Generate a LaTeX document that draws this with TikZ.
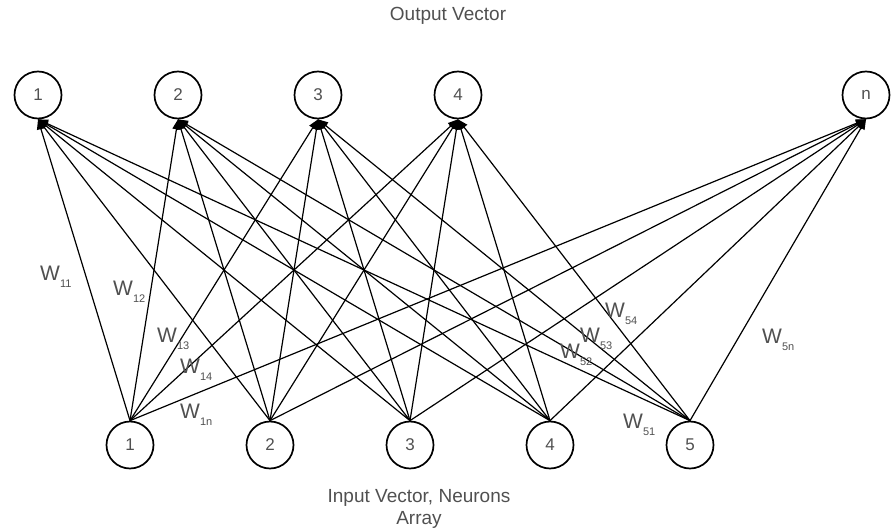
\documentclass[tikz,border=0pt]{standalone}
\usepackage{fontspec}
\setmainfont{Liberation Sans}
\usetikzlibrary{
  arrows.meta, % for the Triangle arrow tip
  positioning, % for relative positioning of the neurons
}
\definecolor{textgray}{RGB}{80,80,80}
\newcommand{\wsub}[1]{W\raisebox{-7pt}{\fontsize{11}{12}\selectfont #1}}
\tikzset{
  neuron/.style={ % style for each neuron
    circle,draw,line width=1.7pt, % drawn as a thick circle
    inner sep=0pt, % no padding between the text and the circle shape
    minimum size=47pt, % make each neuron the same size
    text=textgray,font=\fontsize{17}{20}\selectfont,
  },
  weight/.style={ % style for the weight labels
    anchor=base west,inner sep=0pt,
    text=textgray,font=\fontsize{21}{24}\selectfont,
  },
  caption/.style={ % style for the layer captions
    align=center,inner sep=0pt,
    text=textgray,font=\fontsize{19}{22}\selectfont,
  },
  conn/.style={ % style for the connections
    -{Triangle[length=10pt,width=8pt]}, % small filled arrow tip
    line width=1.2pt,
  },
}
\begin{document}
\begin{tikzpicture}[x=1pt, y=-1pt, node distance=140pt]
	\useasboundingbox (0,0) rectangle (891,532);
	
	% output vector
	\node[neuron] (o1) at (38,95) {1};
	\node[neuron] (o2) [right of=o1] {2};
	\node[neuron] (o3) [right of=o2] {3};
	\node[neuron] (o4) [right of=o3] {4};
	\node[neuron] (on) at (866,95) {n};
	
	% input vector
	\node[neuron] (i1) at (130,445) {1};
	\node[neuron] (i2) [right of=i1] {2};
	\node[neuron] (i3) [right of=i2] {3};
	\node[neuron] (i4) [right of=i3] {4};
	\node[neuron] (i5) [right of=i4] {5};
	
	\foreach \i in {1,...,5}
		\foreach \o in {1,2,3,4,n}
			\draw[conn] (i\i.north) -- (o\o.south);
	
	\node[caption,anchor=base] (outcap) at (448,21) {Output Vector};
	\node[caption,anchor=north] (incap) at (419,489) {Input Vector, Neurons\\Array};
	
	\node[weight] (w11) at (40,280) {\wsub{11}};
	\node[weight] (w12) at (113,295) {\wsub{12}};
	\node[weight] (w13) at (157,342) {\wsub{13}};
	\node[weight] (w14) at (180,373) {\wsub{14}};
	\node[weight] (w1n) at (180,418) {\wsub{1n}};
	\node[weight] (w54) at (605,317) {\wsub{54}};
	\node[weight] (w53) at (580,342) {\wsub{53}};
	\node[weight] (w52) at (560,358) {\wsub{52}};
	\node[weight] (w5n) at (762,343) {\wsub{5n}};
	\node[weight] (w51) at (623,428) {\wsub{51}};
\end{tikzpicture}
\end{document}
